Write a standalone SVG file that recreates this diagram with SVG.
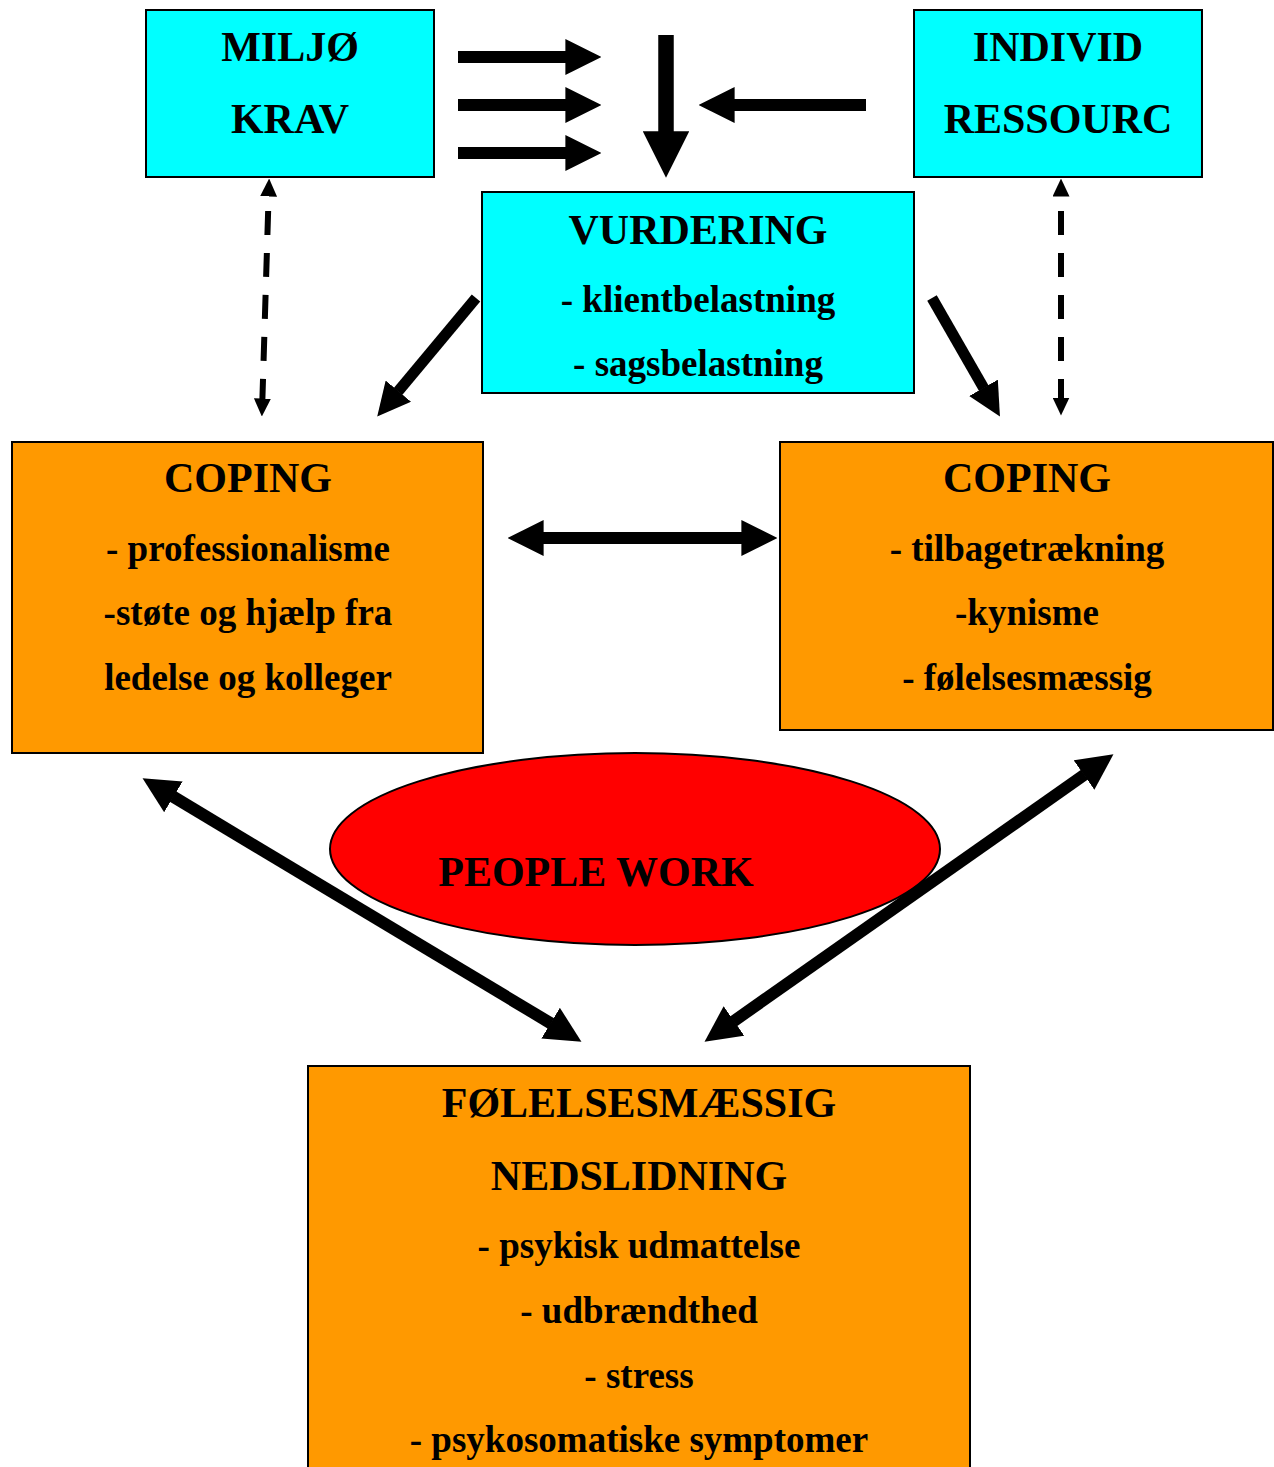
<svg xmlns="http://www.w3.org/2000/svg" width="1274" height="1467" viewBox="0 0 1274 1467">
<style>
.cyan{fill:#00FFFF;stroke:#000;stroke-width:2}
.orange{fill:#FF9900;stroke:#000;stroke-width:2}
text{font-family:"Liberation Serif","Times New Roman",serif;font-weight:bold;fill:#000;text-anchor:middle}
.h{font-size:42px}
.b{font-size:37px}
.arr{stroke:#000;fill:none;marker-end:url(#head)}
.dbl{stroke:#000;fill:none;marker-start:url(#head);marker-end:url(#head)}
.dash{stroke:#000;stroke-width:6;fill:none;stroke-dasharray:24 18;stroke-dashoffset:27;marker-start:url(#sh);marker-end:url(#sh)}
</style>
<defs>
<marker id="head" viewBox="0 0 3 3" refX="0.05" refY="1.5" markerWidth="3" markerHeight="3" markerUnits="strokeWidth" orient="auto-start-reverse">
<path d="M0,0 L3,1.5 L0,3 Z" fill="#000"/>
</marker>
<marker id="sh" viewBox="0 0 18 17" refX="0.5" refY="8.5" markerWidth="18" markerHeight="17" markerUnits="userSpaceOnUse" orient="auto-start-reverse">
<path d="M0,0 L18,8.5 L0,17 Z" fill="#000"/>
</marker>
</defs>
<rect width="1274" height="1467" fill="#fff"/>

<g id="miljo">
<rect class="cyan" x="146" y="10" width="288" height="167"/>
<text class="h" x="290" y="61">MILJØ</text>
<text class="h" x="290" y="133">KRAV</text>
</g>
<g id="individ">
<rect class="cyan" x="914" y="10" width="288" height="167"/>
<text class="h" x="1058" y="61">INDIVID</text>
<text class="h" x="1058" y="133">RESSOURC</text>
</g>
<g id="vurdering">
<rect class="cyan" x="482" y="192" width="432" height="201"/>
<text class="h" x="698" y="244">VURDERING</text>
<text class="b" x="698" y="312">- klientbelastning</text>
<text class="b" x="698" y="376">- sagsbelastning</text>
</g>
<g id="coping-left">
<rect class="orange" x="12" y="442" width="471" height="311"/>
<text class="h" x="248" y="492">COPING</text>
<text class="b" x="248" y="561">- professionalisme</text>
<text class="b" x="248" y="625">-støte og hjælp fra</text>
<text class="b" x="248" y="690">ledelse og kolleger</text>
</g>
<g id="coping-right">
<rect class="orange" x="780" y="442" width="493" height="288"/>
<text class="h" x="1027" y="492">COPING</text>
<text class="b" x="1027" y="561">- tilbagetrækning</text>
<text class="b" x="1027" y="625">-kynisme</text>
<text class="b" x="1027" y="690">- følelsesmæssig</text>
</g>
<g id="nedslidning">
<rect class="orange" x="308" y="1066" width="662" height="410"/>
<text class="h" x="639" y="1117">FØLELSESMÆSSIG</text>
<text class="h" x="639" y="1190">NEDSLIDNING</text>
<text class="b" x="639" y="1258">- psykisk udmattelse</text>
<text class="b" x="639" y="1323">- udbrændthed</text>
<text class="b" x="639" y="1388">- stress</text>
<text class="b" x="639" y="1452">- psykosomatiske symptomer</text>
</g>
<g id="people-work">
<ellipse cx="635" cy="849" rx="305" ry="96" fill="#FF0000" stroke="#000" stroke-width="2"/>
<text class="h" x="596" y="886">PEOPLE WORK</text>
</g>

<g id="connectors">
<line class="arr" x1="458" y1="57" x2="566" y2="57" stroke-width="12"/>
<line class="arr" x1="458" y1="105" x2="566" y2="105" stroke-width="12"/>
<line class="arr" x1="458" y1="153" x2="566" y2="153" stroke-width="12"/>
<line class="arr" x1="666" y1="35" x2="666" y2="132" stroke-width="15.5"/>
<line class="arr" x1="866" y1="105" x2="734" y2="105" stroke-width="12"/>
<line class="dash" x1="268.6" y1="196" x2="262.4" y2="399"/>
<line class="dash" x1="1061" y1="196" x2="1061" y2="398"/>
<line class="arr" x1="476" y1="298" x2="398" y2="391.5" stroke-width="11"/>
<line class="arr" x1="932" y1="298" x2="983.8" y2="388.3" stroke-width="11"/>
<line class="dbl" x1="543" y1="538" x2="742" y2="538" stroke-width="12"/>
<line class="dbl" x1="172.9" y1="796.5" x2="551.1" y2="1023.5" stroke-width="12"/>
<line class="dbl" x1="1084.5" y1="774.7" x2="733.5" y2="1021.3" stroke-width="12"/>
</g>
</svg>
